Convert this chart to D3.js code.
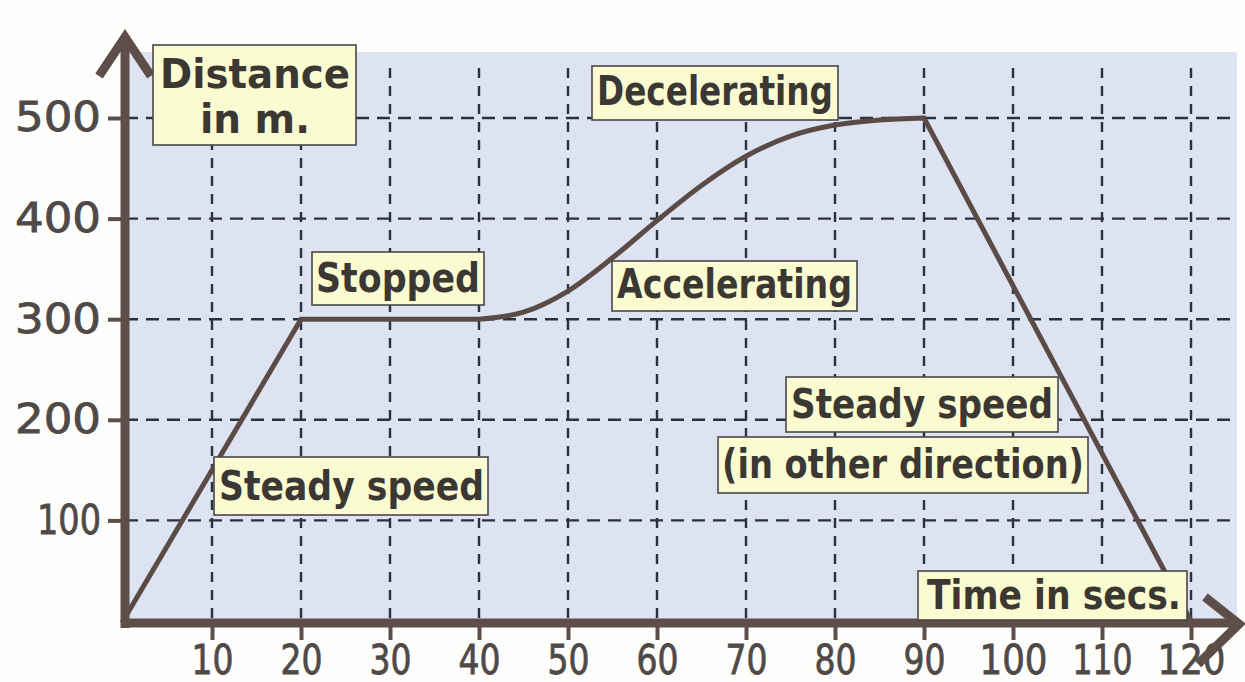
<!DOCTYPE html>
<html>
<head>
<meta charset="utf-8">
<script src="https://cdn.jsdelivr.net/npm/d3@7"></script>
<style>
  html, body { margin: 0; padding: 0; background: #fdfdfc; }
  svg { display: block; }
</style>
</head>
<body>
<svg id="chart" width="1245" height="682"></svg>
<script>
// ---- data ----
const xTicks = [10, 20, 30, 40, 50, 60, 70, 80, 90, 100, 110, 120];
const yTicks = [100, 200, 300, 400, 500];
// distance-time curve, split into straight / curved / straight parts
const steadyTimes = [0, 20, 40];
const steadyDist = [0, 300, 300];
const accelTimes = [40, 45, 50, 55, 60, 65, 70, 75, 80, 85, 90];
const accelDist = [300, 307, 328, 361, 398, 433, 462, 482, 493, 498, 500];
const returnTimes = [90, 120];
const returnDist = [500, 0];
const yAxisTitle = ["Distance", "in m."];
const xAxisTitle = ["Time in secs."];
const annotationTexts = ["Decelerating", "Stopped", "Accelerating", "Steady speed", "(in other direction)", "Steady speed"];

// ---- layout (pixel boxes for the label callouts) ----
const boxLayout = [
  // [x0, y0, x1, y1, textX0, textX1, baseline]
  [592, 66, 838, 120, 597, 833, 105],
  [312, 252, 484, 305, 316, 480, 292],
  [612, 261, 857, 311, 617, 852, 298],
  [786, 377, 1058, 432, 791, 1053, 418],
  [718, 437, 1088, 493, 722, 1084, 478],
  [214, 457, 488, 515, 219, 484, 500]
];
const yTitleBox = [153, 45, 356, 145, [[160, 350, 88], [200, 310, 133]]];
const xTitleBox = [918, 571, 1187, 620, [[927, 1181, 609]]];

const svg = d3.select("#chart");
const x = d3.scaleLinear().domain([0, 120]).range([123, 1191]);
const y = d3.scaleLinear().domain([0, 500]).range([621, 118]);

const axisCol = "#5d4e49";
const lineCol = "#5a4b46";
const gridCol = "#2c3140";
const textCol = "#3b3733";
const tickTextCol = "#4f4a47";
const font = "'DejaVu Sans', 'Open Sans', sans-serif";

// background panel
svg.append("rect").attr("x", 125).attr("y", 52).attr("width", 1112).attr("height", 571)
  .attr("fill", "#dde3f1");

// grid
svg.append("g").selectAll("line").data(xTicks).join("line")
  .attr("x1", d => x(d)).attr("x2", d => x(d))
  .attr("y1", 68).attr("y2", 621)
  .attr("stroke", gridCol).attr("stroke-width", 2.4)
  .attr("stroke-dasharray", "10,8");
svg.append("g").selectAll("line").data(yTicks).join("line")
  .attr("x1", 125).attr("x2", 1237)
  .attr("y1", d => y(d)).attr("y2", d => y(d))
  .attr("stroke", gridCol).attr("stroke-width", 2.4)
  .attr("stroke-dasharray", "13,8");

// axes with d3
const yAxis = d3.axisLeft(y).tickValues(yTicks).tickSize(17).tickPadding(8);
const gy = svg.append("g").attr("transform", "translate(125,0)").call(yAxis);
const xAxis = d3.axisBottom(x).tickValues(xTicks).tickSize(17).tickPadding(6);
const gx = svg.append("g").attr("transform", "translate(0,623)").call(xAxis);
[gx, gy].forEach(g => {
  g.select(".domain").remove();
  g.selectAll(".tick line").attr("stroke", axisCol).attr("stroke-width", 4);
  g.selectAll(".tick text").attr("fill", tickTextCol)
    .style("font-family", font).style("font-size", "40px").style("font-weight", "500")
    .attr("stroke", tickTextCol).attr("stroke-width", 0.8);
});
gy.selectAll(".tick text").attr("textLength", d => d === 100 ? 64 : 86)
  .attr("lengthAdjust", "spacingAndGlyphs").attr("x", -24);
gx.selectAll(".tick text").attr("textLength", d => d >= 100 ? (d === 110 ? 60 : 68) : 42)
  .attr("lengthAdjust", "spacingAndGlyphs");

// data line
const lineGen = d3.line().x(d => x(d[0])).y(d => y(d[1]));
const smooth = d3.line().x(d => x(d[0])).y(d => y(d[1])).curve(d3.curveMonotoneX);
const zip = (a, b) => a.map((v, i) => [v, b[i]]);
const lineG = svg.append("g").attr("fill", "none").attr("stroke", lineCol)
  .attr("stroke-width", 5).attr("stroke-linejoin", "miter").attr("stroke-linecap", "round");
const p1 = lineGen(zip(steadyTimes, steadyDist));
const p2 = smooth(zip(accelTimes, accelDist));
const p3 = lineGen(zip(returnTimes, returnDist));
lineG.append("path").attr("d", p1 + p2.replace(/^M[^CL]*/, "L" + x(40) + "," + y(300)) + p3.replace(/^M[^L]*/, ""));

// axis lines + arrows
const axG = svg.append("g").attr("fill", "none").attr("stroke", axisCol)
  .attr("stroke-width", 9);
axG.append("line").attr("x1", 125).attr("x2", 125).attr("y1", 628).attr("y2", 38);
axG.append("line").attr("x1", 121).attr("x2", 1238).attr("y1", 623).attr("y2", 623);
axG.append("path").attr("d", "M99,76 L125,37 L151,76").attr("stroke-linejoin", "miter");
axG.append("path").attr("d", "M1205,597 L1239,624 L1198,664").attr("stroke-linejoin", "miter");

// callout boxes
function drawBox(bx0, by0, bx1, by1, lines) {
  const g = svg.append("g");
  g.append("rect").attr("x", bx0).attr("y", by0).attr("width", bx1 - bx0).attr("height", by1 - by0)
    .attr("fill", "#fbfbd2").attr("stroke", "#48464a").attr("stroke-width", 1.6);
  lines.forEach(([tx0, tx1, base, txt]) => {
    g.append("text").attr("x", tx0).attr("y", base).text(txt)
      .attr("textLength", tx1 - tx0).attr("lengthAdjust", "spacingAndGlyphs")
      .attr("fill", textCol).style("font-family", font).style("font-size", "40px")
      .style("font-weight", "bold");
  });
}
boxLayout.forEach((b, i) => drawBox(b[0], b[1], b[2], b[3], [[b[4], b[5], b[6], annotationTexts[i]]]));
drawBox(yTitleBox[0], yTitleBox[1], yTitleBox[2], yTitleBox[3],
  yTitleBox[4].map((l, i) => [l[0], l[1], l[2], yAxisTitle[i]]));
drawBox(xTitleBox[0], xTitleBox[1], xTitleBox[2], xTitleBox[3],
  xTitleBox[4].map((l, i) => [l[0], l[1], l[2], xAxisTitle[i]]));
</script>
</body>
</html>
